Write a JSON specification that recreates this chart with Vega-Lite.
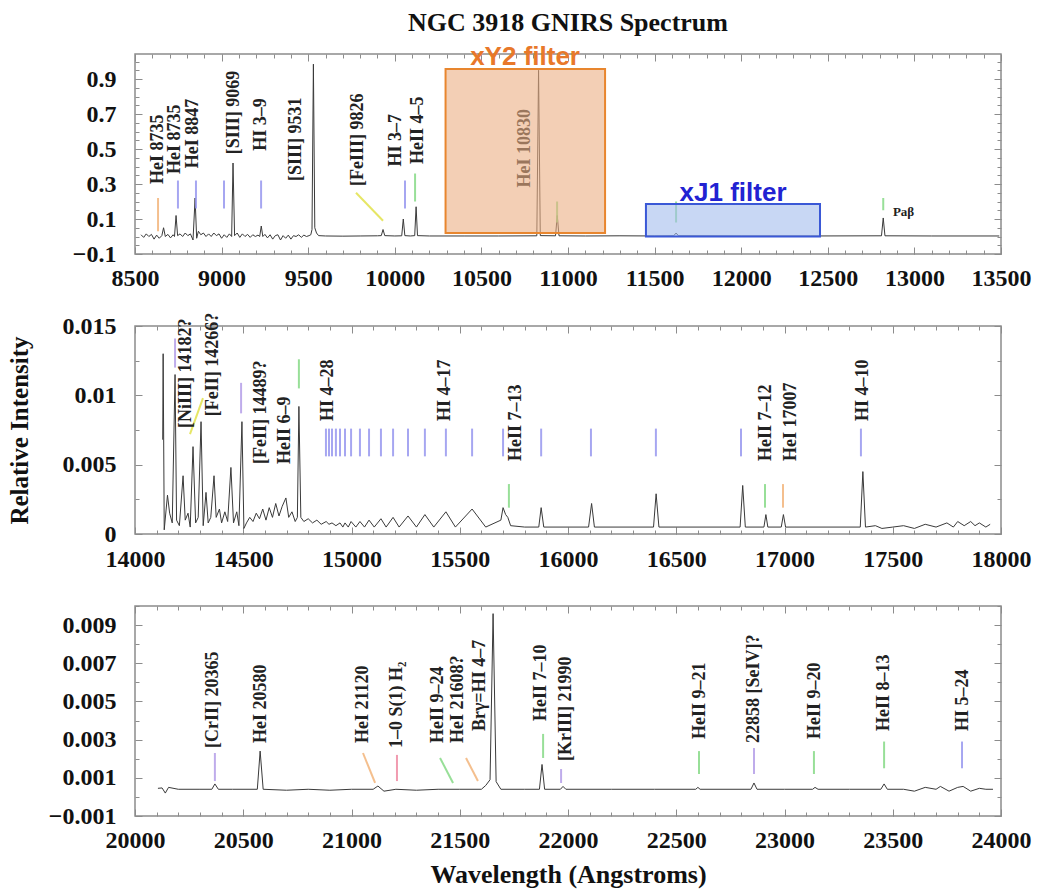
{
"$schema": "https://vega.github.io/schema/vega-lite/v6.json",
"background": "white",
"padding": {"left": 6, "top": 10, "right": 5, "bottom": 5},
"title": {"text": "NGC 3918 GNIRS Spectrum", "anchor": "middle", "frame": "group", "font": "Liberation Serif", "fontSize": 26, "fontWeight": "bold", "color": "#111", "offset": 7},
"bounds": "flush",
"spacing": 72,
"config": {
 "view": {"stroke": "#8c8c8c", "strokeWidth": 1.5},
 "axis": {"domain": false, "grid": false, "tickColor": "#8c8c8c", "tickWidth": 1, "labelFont": "Liberation Serif", "labelFontWeight": "bold", "labelFontSize": 24, "labelColor": "#111", "titleFont": "Liberation Serif", "titleFontWeight": "bold", "titleFontSize": 26, "titleColor": "#111", "labelFlush": false, "labelOverlap": false, "labelBound": false},
 "text": {"font": "Liberation Serif", "fontWeight": "bold", "fontSize": 18, "color": "#222"}
},
"datasets": {
 "top_spec": [
  {"w":8535,"f":0.01},{"w":8550,"f":-0.005},{"w":8565,"f":0.015},{"w":8580,"f":0.0},{"w":8595,"f":0.012},{"w":8610,"f":-0.015},{"w":8625,"f":0.008},{"w":8640,"f":-0.01},{"w":8655,"f":0.005},{"w":8665,"f":0.05},{"w":8675,"f":0.0},{"w":8690,"f":0.012},{"w":8705,"f":-0.008},{"w":8720,"f":0.01},{"w":8728,"f":0.0},{"w":8737,"f":0.12},{"w":8746,"f":0.005},{"w":8760,"f":0.015},{"w":8775,"f":0.0},{"w":8790,"f":0.02},{"w":8805,"f":0.005},{"w":8820,"f":0.015},{"w":8835,"f":-0.02},{"w":8847,"f":0.22},{"w":8856,"f":-0.01},{"w":8866,"f":0.03},{"w":8880,"f":0.01},{"w":8895,"f":0.02},{"w":8910,"f":0.0},{"w":8925,"f":0.015},{"w":8940,"f":0.0},{"w":8955,"f":0.02},{"w":8970,"f":0.005},{"w":8985,"f":0.015},{"w":9000,"f":-0.01},{"w":9015,"f":0.01},{"w":9030,"f":-0.005},{"w":9045,"f":0.015},{"w":9058,"f":0.0},{"w":9066,"f":0.42},{"w":9075,"f":0.005},{"w":9090,"f":0.02},{"w":9105,"f":-0.005},{"w":9120,"f":0.015},{"w":9135,"f":0.0},{"w":9150,"f":0.012},{"w":9165,"f":-0.005},{"w":9180,"f":0.01},{"w":9195,"f":0.0},{"w":9210,"f":0.008},{"w":9220,"f":0.0},{"w":9229,"f":0.06},{"w":9238,"f":0.0},{"w":9250,"f":0.012},{"w":9265,"f":-0.008},{"w":9280,"f":0.01},{"w":9295,"f":-0.015},{"w":9310,"f":0.005},{"w":9325,"f":0.01},{"w":9340,"f":-0.02},{"w":9355,"f":0.005},{"w":9370,"f":-0.01},{"w":9385,"f":0.008},{"w":9400,"f":-0.015},{"w":9415,"f":0.005},{"w":9430,"f":0.0},{"w":9445,"f":0.01},{"w":9460,"f":-0.005},{"w":9475,"f":0.008},{"w":9490,"f":0.0},{"w":9505,"f":0.005},{"w":9515,"f":0.01},{"w":9522,"f":0.04},{"w":9530,"f":0.985},{"w":9538,"f":0.05},{"w":9548,"f":0.02},{"w":9560,"f":0.005},{"w":9600,"f":0.003},{"w":9700,"f":0.002},{"w":9800,"f":0.003},{"w":9900,"f":0.004},{"w":9922,"f":0.005},{"w":9932,"f":0.04},{"w":9942,"f":0.005},{"w":10000,"f":0.003},{"w":10040,"f":0.004},{"w":10049,"f":0.1},{"w":10058,"f":0.005},{"w":10090,"f":0.003},{"w":10115,"f":0.005},{"w":10123,"f":0.17},{"w":10131,"f":0.005},{"w":10200,"f":0.003},{"w":10400,"f":0.003},{"w":10600,"f":0.003},{"w":10820,"f":0.004},{"w":10830,"f":0.95},{"w":10840,"f":0.005},{"w":10928,"f":0.004},{"w":10938,"f":0.12},{"w":10948,"f":0.004},{"w":11100,"f":0.003},{"w":11300,"f":0.004},{"w":11500,"f":0.003},{"w":11610,"f":0.004},{"w":11624,"f":0.02},{"w":11638,"f":0.004},{"w":12000,"f":0.003},{"w":12400,"f":0.003},{"w":12810,"f":0.004},{"w":12820,"f":0.106},{"w":12830,"f":0.004},{"w":13100,"f":0.003},{"w":13490,"f":0.003}
 ],
 "top_mk": [
  {"w":8633,"a":0.03,"b":0.22,"k":"HeI"},{"w":8748,"a":0.16,"b":0.32,"k":"HI"},{"w":8852,"a":0.16,"b":0.32,"k":"HI"},{"w":9014,"a":0.16,"b":0.32,"k":"HI"},{"w":9228,"a":0.16,"b":0.32,"k":"HI"},{"w":10059,"a":0.16,"b":0.32,"k":"HI"},{"w":10117,"a":0.2,"b":0.36,"k":"HeII"},{"w":10937,"a":0.08,"b":0.2,"k":"HeII"},{"w":11624,"a":0.08,"b":0.2,"k":"HeII"},{"w":12820,"a":0.15,"b":0.22,"k":"HeII"}
 ],
 "top_ld": [{"w":9776,"w2":9932,"a":0.25,"b":0.09,"k":"Fe"}],
 "top_lb": [
  {"w":8633,"a":0.3,"t":"HeI 8735"},{"w":8731,"a":0.357,"t":"HeI 8735"},{"w":8835,"a":0.39,"t":"HeI 8847"},{"w":9072,"a":0.47,"t":"[SIII] 9069"},{"w":9227,"a":0.49,"t":"HI 3–9"},{"w":9430,"a":0.317,"t":"[SIII] 9531"},{"w":9787,"a":0.289,"t":"[FeIII] 9826"},{"w":10007,"a":0.4,"t":"HI 3–7"},{"w":10134,"a":0.414,"t":"HeII 4–5"},{"w":10752,"a":0.28,"t":"HeI 10830"}
 ],
 "top_box": [{"band":"xY2","w":10293,"w2":11214,"a":0.02,"b":0.957},{"band":"xJ1","w":11450,"w2":12455,"a":0.0,"b":0.186}],
 "top_ft": [{"band":"xY2","w":10752,"a":1.026,"t":"xY2 filter"},{"band":"xJ1","w":11953,"a":0.25,"t":"xJ1 filter"}],
 "top_pa": [{"w":12876,"a":0.14,"t":"Paβ"}],
 "mid_spec": [
  {"w":14128,"f":0.0068},{"w":14130,"f":0.013},{"w":14135,"f":0.0003},{"w":14150,"f":0.0028},{"w":14160,"f":0.0015},{"w":14172,"f":0.0008},{"w":14185,"f":0.0115},{"w":14192,"f":0.001},{"w":14205,"f":0.0006},{"w":14222,"f":0.0042},{"w":14232,"f":0.001},{"w":14245,"f":0.0015},{"w":14255,"f":0.0005},{"w":14268,"f":0.0063},{"w":14280,"f":0.0008},{"w":14292,"f":0.0012},{"w":14305,"f":0.0081},{"w":14315,"f":0.0006},{"w":14328,"f":0.003},{"w":14338,"f":0.0008},{"w":14350,"f":0.0012},{"w":14365,"f":0.0042},{"w":14375,"f":0.0012},{"w":14390,"f":0.0018},{"w":14400,"f":0.0008},{"w":14415,"f":0.0016},{"w":14428,"f":0.0009},{"w":14443,"f":0.0048},{"w":14455,"f":0.0008},{"w":14470,"f":0.0016},{"w":14480,"f":0.0006},{"w":14494,"f":0.0081},{"w":14503,"f":0.0004},{"w":14515,"f":0.0008},{"w":14530,"f":0.0012},{"w":14545,"f":0.0009},{"w":14560,"f":0.0015},{"w":14575,"f":0.0011},{"w":14590,"f":0.0018},{"w":14605,"f":0.001},{"w":14620,"f":0.0019},{"w":14635,"f":0.0012},{"w":14650,"f":0.0022},{"w":14665,"f":0.0013},{"w":14680,"f":0.002},{"w":14697,"f":0.0026},{"w":14710,"f":0.0012},{"w":14725,"f":0.0016},{"w":14740,"f":0.0009},{"w":14750,"f":0.0012},{"w":14757,"f":0.0092},{"w":14766,"f":0.0012},{"w":14780,"f":0.0009},{"w":14800,"f":0.0011},{"w":14820,"f":0.0008},{"w":14840,"f":0.001},{"w":14860,"f":0.0007},{"w":14883,"f":0.0009},{"w":14896,"f":0.0007},{"w":14910,"f":0.0008},{"w":14928,"f":0.0006},{"w":14947,"f":0.0008},{"w":14960,"f":0.0005},{"w":14970,"f":0.0008},{"w":14985,"f":0.0005},{"w":14998,"f":0.0009},{"w":15020,"f":0.0005},{"w":15039,"f":0.0009},{"w":15060,"f":0.0005},{"w":15081,"f":0.001},{"w":15105,"f":0.0005},{"w":15136,"f":0.0011},{"w":15160,"f":0.0005},{"w":15192,"f":0.0012},{"w":15220,"f":0.0005},{"w":15261,"f":0.0013},{"w":15300,"f":0.0005},{"w":15339,"f":0.0014},{"w":15380,"f":0.0005},{"w":15436,"f":0.0016},{"w":15480,"f":0.0005},{"w":15557,"f":0.0018},{"w":15620,"f":0.0005},{"w":15690,"f":0.001},{"w":15700,"f":0.0019},{"w":15712,"f":0.0014},{"w":15722,"f":0.0012},{"w":15735,"f":0.0006},{"w":15800,"f":0.0005},{"w":15865,"f":0.0005},{"w":15876,"f":0.0019},{"w":15888,"f":0.0005},{"w":16095,"f":0.0005},{"w":16109,"f":0.0022},{"w":16122,"f":0.0005},{"w":16395,"f":0.0005},{"w":16407,"f":0.0029},{"w":16420,"f":0.0005},{"w":16795,"f":0.0005},{"w":16807,"f":0.0035},{"w":16819,"f":0.0005},{"w":16905,"f":0.0005},{"w":16914,"f":0.0014},{"w":16923,"f":0.0005},{"w":16985,"f":0.0005},{"w":16995,"f":0.0014},{"w":17005,"f":0.0005},{"w":17350,"f":0.0005},{"w":17362,"f":0.0045},{"w":17374,"f":0.0005},{"w":17420,"f":0.0006},{"w":17450,"f":0.0004},{"w":17500,"f":0.0005},{"w":17550,"f":0.0006},{"w":17600,"f":0.0004},{"w":17650,"f":0.0007},{"w":17700,"f":0.0005},{"w":17750,"f":0.0008},{"w":17780,"f":0.0005},{"w":17800,"f":0.0009},{"w":17830,"f":0.0006},{"w":17860,"f":0.0009},{"w":17880,"f":0.0006},{"w":17900,"f":0.0008},{"w":17930,"f":0.0005},{"w":17950,"f":0.0007}
 ],
 "mid_mk": [
  {"w":14185,"a":0.012,"b":0.0141,"k":"ion"},{"w":14490,"a":0.0087,"b":0.0109,"k":"ion"},{"w":14757,"a":0.0105,"b":0.0126,"k":"HeII"},
  {"w":14882,"a":0.0056,"b":0.0076,"k":"HI"},{"w":14896,"a":0.0056,"b":0.0076,"k":"HI"},{"w":14910,"a":0.0056,"b":0.0076,"k":"HI"},{"w":14928,"a":0.0056,"b":0.0076,"k":"HI"},{"w":14947,"a":0.0056,"b":0.0076,"k":"HI"},{"w":14970,"a":0.0056,"b":0.0076,"k":"HI"},{"w":14998,"a":0.0056,"b":0.0076,"k":"HI"},{"w":15039,"a":0.0056,"b":0.0076,"k":"HI"},{"w":15081,"a":0.0056,"b":0.0076,"k":"HI"},{"w":15136,"a":0.0056,"b":0.0076,"k":"HI"},{"w":15192,"a":0.0056,"b":0.0076,"k":"HI"},{"w":15261,"a":0.0056,"b":0.0076,"k":"HI"},{"w":15339,"a":0.0056,"b":0.0076,"k":"HI"},{"w":15436,"a":0.0056,"b":0.0076,"k":"HI"},{"w":15557,"a":0.0056,"b":0.0076,"k":"HI"},{"w":15700,"a":0.0056,"b":0.0076,"k":"HI"},{"w":15876,"a":0.0056,"b":0.0076,"k":"HI"},{"w":16106,"a":0.0056,"b":0.0076,"k":"HI"},{"w":16406,"a":0.0056,"b":0.0076,"k":"HI"},{"w":16799,"a":0.0056,"b":0.0076,"k":"HI"},{"w":17353,"a":0.0056,"b":0.0076,"k":"HI"},
  {"w":15727,"a":0.0019,"b":0.0036,"k":"HeII"},{"w":16910,"a":0.0019,"b":0.0036,"k":"HeII"},{"w":16993,"a":0.0019,"b":0.0036,"k":"HeI"}
 ],
 "mid_ld": [{"w":14314,"w2":14254,"a":0.0098,"b":0.0072,"k":"Fe"}],
 "mid_lb": [
  {"w":14236,"a":0.00764,"t":"[NiIII] 14182?"},{"w":14360,"a":0.0085,"t":"[FeII] 14266?"},{"w":14582,"a":0.00505,"t":"[FeII] 14489?"},{"w":14693,"a":0.00505,"t":"HeII 6–9"},{"w":14891,"a":0.00815,"t":"HI 4–28"},{"w":15432,"a":0.00815,"t":"HI 4–17"},{"w":15760,"a":0.00526,"t":"HeII 7–13"},{"w":16914,"a":0.00526,"t":"HeII 7–12"},{"w":17030,"a":0.00526,"t":"HeI 17007"},{"w":17363,"a":0.00815,"t":"HI 4–10"}
 ],
 "bot_spec": [
  {"w":20106,"f":0.00045},{"w":20125,"f":0.00047},{"w":20140,"f":0.0002},{"w":20155,"f":0.0005},{"w":20200,"f":0.0004},{"w":20300,"f":0.0004},{"w":20355,"f":0.0004},{"w":20369,"f":0.00068},{"w":20385,"f":0.0004},{"w":20450,"f":0.0004},{"w":20565,"f":0.0004},{"w":20578,"f":0.0024},{"w":20592,"f":0.0004},{"w":20700,"f":0.00035},{"w":20800,"f":0.0004},{"w":20900,"f":0.00035},{"w":21000,"f":0.0004},{"w":21100,"f":0.0004},{"w":21122,"f":0.00057},{"w":21150,"f":0.0003},{"w":21205,"f":0.0004},{"w":21300,"f":0.00035},{"w":21400,"f":0.0004},{"w":21500,"f":0.0004},{"w":21600,"f":0.0004},{"w":21620,"f":0.0006},{"w":21640,"f":0.0009},{"w":21654,"f":0.0096},{"w":21668,"f":0.0008},{"w":21690,"f":0.0004},{"w":21800,"f":0.0004},{"w":21868,"f":0.0004},{"w":21880,"f":0.0017},{"w":21892,"f":0.0004},{"w":21965,"f":0.0004},{"w":21977,"f":0.00055},{"w":21990,"f":0.0004},{"w":22200,"f":0.0004},{"w":22400,"f":0.0004},{"w":22590,"f":0.0004},{"w":22600,"f":0.0005},{"w":22610,"f":0.0004},{"w":22845,"f":0.0004},{"w":22859,"f":0.00073},{"w":22873,"f":0.0004},{"w":23000,"f":0.0004},{"w":23130,"f":0.0004},{"w":23141,"f":0.0005},{"w":23155,"f":0.0004},{"w":23300,"f":0.0004},{"w":23445,"f":0.0004},{"w":23460,"f":0.00068},{"w":23475,"f":0.0004},{"w":23550,"f":0.0004},{"w":23600,"f":0.0003},{"w":23650,"f":0.0005},{"w":23700,"f":0.0004},{"w":23720,"f":0.00055},{"w":23760,"f":0.0003},{"w":23800,"f":0.0005},{"w":23825,"f":0.00055},{"w":23860,"f":0.0003},{"w":23900,"f":0.00045},{"w":23930,"f":0.0004},{"w":23963,"f":0.0004}
 ],
 "bot_mk": [
  {"w":20369,"a":0.00083,"b":0.0023,"k":"ion"},{"w":21210,"a":0.00083,"b":0.0022,"k":"H2"},{"w":21885,"a":0.00204,"b":0.0033,"k":"HeII"},{"w":21968,"a":0.00073,"b":0.00146,"k":"ion"},{"w":22605,"a":0.0012,"b":0.0024,"k":"HeII"},{"w":22859,"a":0.0012,"b":0.00256,"k":"ion"},{"w":23136,"a":0.0012,"b":0.0024,"k":"HeII"},{"w":23460,"a":0.0015,"b":0.0029,"k":"HeII"},{"w":23820,"a":0.0015,"b":0.0029,"k":"HI"}
 ],
 "bot_ld": [
  {"w":21053,"w2":21109,"a":0.0023,"b":0.00073,"k":"HeI"},{"w":21409,"w2":21469,"a":0.00204,"b":0.00073,"k":"HeII"},{"w":21529,"w2":21584,"a":0.00204,"b":0.00083,"k":"HeI"}
 ],
 "bot_lb": [
  {"w":20360,"a":0.00256,"t":"[CrII] 20365"},{"w":20582,"a":0.00282,"t":"HeI 20580"},{"w":21053,"a":0.00282,"t":"HeI 21120"},{"w":21210,"a":0.00256,"t":"1–0 S(1) H₂"},{"w":21400,"a":0.00282,"t":"HeII 9–24"},{"w":21492,"a":0.00282,"t":"HeI 21608?"},{"w":21594,"a":0.00345,"t":"Brγ=HI 4–7"},{"w":21877,"a":0.00398,"t":"HeII 7–10"},{"w":21990,"a":0.00188,"t":"[KrIII] 21990"},{"w":22609,"a":0.00303,"t":"HeII 9–21"},{"w":22859,"a":0.00282,"t":"22858 [SeIV]?"},{"w":23141,"a":0.00303,"t":"HeII 9–20"},{"w":23460,"a":0.00345,"t":"HeII 8–13"},{"w":23825,"a":0.00345,"t":"HI 5–24"}
 ]
},
"vconcat": [
 {
  "width": 866, "height": 200,
  "resolve": {"axis": {"x": "independent", "y": "independent"}},
  "layer": [
   {"data": {"name": "top_spec"}, "mark": {"type": "line", "color": "#3a3a3a", "strokeWidth": 1},
    "encoding": {
     "x": {"field": "w", "type": "quantitative", "scale": {"domain": [8500, 13500], "nice": false, "zero": false}, "axis": {"orient": "bottom", "values": [8500,9000,9500,10000,10500,11000,11500,12000,12500,13000,13500], "format": "d", "tickSize": -7, "labelPadding": 19, "title": null}},
     "y": {"field": "f", "type": "quantitative", "scale": {"domain": [-0.1, 1.043], "nice": false, "zero": false}, "axis": {"orient": "left", "values": [-0.1,0.1,0.3,0.5,0.7,0.9], "format": ".1f", "tickSize": -7, "labelPadding": 26, "title": null}}
    }},
   {"data": {"name": "top_mk"}, "mark": {"type": "rule", "strokeWidth": 2, "opacity": 0.85},
    "encoding": {
     "x": {"field": "w", "type": "quantitative", "scale": {"domain": [8500, 13500], "nice": false, "zero": false}, "axis": {"orient": "bottom", "values": [8600,8700,8800,8900,9000,9100,9200,9300,9400,9500,9600,9700,9800,9900,10000,10100,10200,10300,10400,10500,10600,10700,10800,10900,11000,11100,11200,11300,11400,11500,11600,11700,11800,11900,12000,12100,12200,12300,12400,12500,12600,12700,12800,12900,13000,13100,13200,13300,13400], "labels": false, "tickSize": -4, "title": null}},
     "y": {"field": "a", "type": "quantitative", "scale": {"domain": [-0.1, 1.043], "nice": false, "zero": false}, "axis": {"orient": "left", "values": [-0.05,0,0.05,0.1,0.15,0.2,0.25,0.3,0.35,0.4,0.45,0.5,0.55,0.6,0.65,0.7,0.75,0.8,0.85,0.9,0.95,1.0], "labels": false, "tickSize": -4, "title": null}},
     "y2": {"field": "b"},
     "color": {"field": "k", "type": "nominal", "scale": {"domain": ["HI","HeII","HeI","Fe","H2","ion"], "range": ["#9797ee","#86d986","#f2b47a","#e2e24a","#ee8aa2","#b49ee8"]}, "legend": null}
    }},
   {"data": {"name": "top_ld"}, "mark": {"type": "rule", "strokeWidth": 2, "opacity": 0.85},
    "encoding": {
     "x": {"field": "w", "type": "quantitative", "scale": {"domain": [8500, 13500], "nice": false, "zero": false}, "axis": {"orient": "top", "values": [8600,8700,8800,8900,9000,9100,9200,9300,9400,9500,9600,9700,9800,9900,10000,10100,10200,10300,10400,10500,10600,10700,10800,10900,11000,11100,11200,11300,11400,11500,11600,11700,11800,11900,12000,12100,12200,12300,12400,12500,12600,12700,12800,12900,13000,13100,13200,13300,13400], "labels": false, "tickSize": -4, "title": null}},
     "x2": {"field": "w2"},
     "y": {"field": "a", "type": "quantitative", "scale": {"domain": [-0.1, 1.043], "nice": false, "zero": false}, "axis": {"orient": "right", "values": [-0.05,0,0.05,0.1,0.15,0.2,0.25,0.3,0.35,0.4,0.45,0.5,0.55,0.6,0.65,0.7,0.75,0.8,0.85,0.9,0.95,1.0], "labels": false, "tickSize": -4, "title": null}},
     "y2": {"field": "b"},
     "color": {"field": "k", "type": "nominal", "scale": {"domain": ["HI","HeII","HeI","Fe","H2","ion"], "range": ["#9797ee","#86d986","#f2b47a","#e2e24a","#ee8aa2","#b49ee8"]}, "legend": null}
    }},
   {"data": {"name": "top_lb"}, "mark": {"type": "text", "angle": 270, "align": "left", "baseline": "middle"},
    "encoding": {
     "x": {"field": "w", "type": "quantitative", "scale": {"domain": [8500, 13500], "nice": false, "zero": false}, "axis": {"orient": "top", "values": [8500,9000,9500,10000,10500,11000,11500,12000,12500,13000,13500], "labels": false, "tickSize": -7, "title": null}},
     "y": {"field": "a", "type": "quantitative", "scale": {"domain": [-0.1, 1.043], "nice": false, "zero": false}, "axis": {"orient": "right", "values": [-0.1,0.1,0.3,0.5,0.7,0.9], "labels": false, "tickSize": -7, "title": null}},
     "text": {"field": "t"}
    }},
   {"data": {"name": "top_pa"}, "mark": {"type": "text", "align": "left", "baseline": "middle", "fontSize": 13},
    "encoding": {
     "x": {"field": "w", "type": "quantitative", "scale": {"domain": [8500, 13500], "nice": false, "zero": false}, "axis": null},
     "y": {"field": "a", "type": "quantitative", "scale": {"domain": [-0.1, 1.043], "nice": false, "zero": false}, "axis": null},
     "text": {"field": "t"}
    }},
   {"data": {"name": "top_box"}, "mark": {"type": "rect", "fillOpacity": 0.6, "strokeWidth": 2},
    "encoding": {
     "x": {"field": "w", "type": "quantitative", "scale": {"domain": [8500, 13500], "nice": false, "zero": false}, "axis": null},
     "x2": {"field": "w2"},
     "y": {"field": "a", "type": "quantitative", "scale": {"domain": [-0.1, 1.043], "nice": false, "zero": false}, "axis": null},
     "y2": {"field": "b"},
     "fill": {"field": "band", "type": "nominal", "scale": {"domain": ["xY2","xJ1"], "range": ["#ebaf84","#a3bced"]}, "legend": null},
     "stroke": {"field": "band", "type": "nominal", "scale": {"domain": ["xY2","xJ1"], "range": ["#e8862e","#3a58d6"]}, "legend": null}
    }},
   {"data": {"name": "top_ft"}, "transform": [{"filter": "datum.band == 'xY2'"}], "mark": {"type": "text", "font": "Liberation Sans", "fontWeight": "bold", "fontSize": 26, "color": "#e8782a", "align": "center", "baseline": "middle"},
    "encoding": {
     "x": {"field": "w", "type": "quantitative", "scale": {"domain": [8500, 13500], "nice": false, "zero": false}, "axis": null},
     "y": {"field": "a", "type": "quantitative", "scale": {"domain": [-0.1, 1.043], "nice": false, "zero": false}, "axis": null},
     "text": {"field": "t"}
    }},
   {"data": {"name": "top_ft"}, "transform": [{"filter": "datum.band == 'xJ1'"}], "mark": {"type": "text", "font": "Liberation Sans", "fontWeight": "bold", "fontSize": 26, "color": "#2222d2", "align": "center", "baseline": "middle"},
    "encoding": {
     "x": {"field": "w", "type": "quantitative", "scale": {"domain": [8500, 13500], "nice": false, "zero": false}, "axis": null},
     "y": {"field": "a", "type": "quantitative", "scale": {"domain": [-0.1, 1.043], "nice": false, "zero": false}, "axis": null},
     "text": {"field": "t"}
    }}
  ]
 },
 {
  "width": 866, "height": 208,
  "resolve": {"axis": {"x": "independent", "y": "independent"}},
  "layer": [
   {"data": {"name": "mid_spec"}, "mark": {"type": "line", "color": "#3a3a3a", "strokeWidth": 1},
    "encoding": {
     "x": {"field": "w", "type": "quantitative", "scale": {"domain": [14000, 18000], "nice": false, "zero": false}, "axis": {"orient": "bottom", "values": [14000,14500,15000,15500,16000,16500,17000,17500,18000], "format": "d", "tickSize": -7, "labelPadding": 20, "title": null}},
     "y": {"field": "f", "type": "quantitative", "scale": {"domain": [0, 0.015], "nice": false, "zero": false}, "axis": {"orient": "left", "values": [0,0.005,0.01,0.015], "format": ".3~f", "tickSize": -7, "labelPadding": 26, "title": "Relative Intensity", "titleFontSize": 25, "titlePadding": 30}}
    }},
   {"data": {"name": "mid_mk"}, "mark": {"type": "rule", "strokeWidth": 2, "opacity": 0.85},
    "encoding": {
     "x": {"field": "w", "type": "quantitative", "scale": {"domain": [14000, 18000], "nice": false, "zero": false}, "axis": {"orient": "bottom", "values": [14100,14200,14300,14400,14500,14600,14700,14800,14900,15000,15100,15200,15300,15400,15500,15600,15700,15800,15900,16000,16100,16200,16300,16400,16500,16600,16700,16800,16900,17000,17100,17200,17300,17400,17500,17600,17700,17800,17900], "labels": false, "tickSize": -4, "title": null}},
     "y": {"field": "a", "type": "quantitative", "scale": {"domain": [0, 0.015], "nice": false, "zero": false}, "axis": {"orient": "left", "values": [0.0025,0.0075,0.0125], "labels": false, "tickSize": -4, "title": null}},
     "y2": {"field": "b"},
     "color": {"field": "k", "type": "nominal", "scale": {"domain": ["HI","HeII","HeI","Fe","H2","ion"], "range": ["#9797ee","#86d986","#f2b47a","#e2e24a","#ee8aa2","#b49ee8"]}, "legend": null}
    }},
   {"data": {"name": "mid_ld"}, "mark": {"type": "rule", "strokeWidth": 2, "opacity": 0.85},
    "encoding": {
     "x": {"field": "w", "type": "quantitative", "scale": {"domain": [14000, 18000], "nice": false, "zero": false}, "axis": {"orient": "top", "values": [14100,14200,14300,14400,14500,14600,14700,14800,14900,15000,15100,15200,15300,15400,15500,15600,15700,15800,15900,16000,16100,16200,16300,16400,16500,16600,16700,16800,16900,17000,17100,17200,17300,17400,17500,17600,17700,17800,17900], "labels": false, "tickSize": -4, "title": null}},
     "x2": {"field": "w2"},
     "y": {"field": "a", "type": "quantitative", "scale": {"domain": [0, 0.015], "nice": false, "zero": false}, "axis": {"orient": "right", "values": [0.0025,0.0075,0.0125], "labels": false, "tickSize": -4, "title": null}},
     "y2": {"field": "b"},
     "color": {"field": "k", "type": "nominal", "scale": {"domain": ["HI","HeII","HeI","Fe","H2","ion"], "range": ["#9797ee","#86d986","#f2b47a","#e2e24a","#ee8aa2","#b49ee8"]}, "legend": null}
    }},
   {"data": {"name": "mid_lb"}, "mark": {"type": "text", "angle": 270, "align": "left", "baseline": "middle"},
    "encoding": {
     "x": {"field": "w", "type": "quantitative", "scale": {"domain": [14000, 18000], "nice": false, "zero": false}, "axis": {"orient": "top", "values": [14000,14500,15000,15500,16000,16500,17000,17500,18000], "labels": false, "tickSize": -7, "title": null}},
     "y": {"field": "a", "type": "quantitative", "scale": {"domain": [0, 0.015], "nice": false, "zero": false}, "axis": {"orient": "right", "values": [0,0.005,0.01,0.015], "labels": false, "tickSize": -7, "title": null}},
     "text": {"field": "t"}
    }}
  ]
 },
 {
  "width": 866, "height": 210,
  "resolve": {"axis": {"x": "independent", "y": "independent"}},
  "layer": [
   {"data": {"name": "bot_spec"}, "mark": {"type": "line", "color": "#3a3a3a", "strokeWidth": 1},
    "encoding": {
     "x": {"field": "w", "type": "quantitative", "scale": {"domain": [20000, 24000], "nice": false, "zero": false}, "axis": {"orient": "bottom", "values": [20000,20500,21000,21500,22000,22500,23000,23500,24000], "format": "d", "tickSize": -7, "labelPadding": 19, "title": "Wavelength (Angstroms)", "titlePadding": 9}},
     "y": {"field": "f", "type": "quantitative", "scale": {"domain": [-0.001, 0.01], "nice": false, "zero": false}, "axis": {"orient": "left", "values": [-0.001,0.001,0.003,0.005,0.007,0.009], "format": ".3f", "tickSize": -7, "labelPadding": 26, "title": null}}
    }},
   {"data": {"name": "bot_mk"}, "mark": {"type": "rule", "strokeWidth": 2, "opacity": 0.85},
    "encoding": {
     "x": {"field": "w", "type": "quantitative", "scale": {"domain": [20000, 24000], "nice": false, "zero": false}, "axis": {"orient": "bottom", "values": [20100,20200,20300,20400,20500,20600,20700,20800,20900,21000,21100,21200,21300,21400,21500,21600,21700,21800,21900,22000,22100,22200,22300,22400,22500,22600,22700,22800,22900,23000,23100,23200,23300,23400,23500,23600,23700,23800,23900], "labels": false, "tickSize": -4, "title": null}},
     "y": {"field": "a", "type": "quantitative", "scale": {"domain": [-0.001, 0.01], "nice": false, "zero": false}, "axis": {"orient": "left", "values": [0,0.002,0.004,0.006,0.008,0.01], "labels": false, "tickSize": -4, "title": null}},
     "y2": {"field": "b"},
     "color": {"field": "k", "type": "nominal", "scale": {"domain": ["HI","HeII","HeI","Fe","H2","ion"], "range": ["#9797ee","#86d986","#f2b47a","#e2e24a","#ee8aa2","#b49ee8"]}, "legend": null}
    }},
   {"data": {"name": "bot_ld"}, "mark": {"type": "rule", "strokeWidth": 2, "opacity": 0.85},
    "encoding": {
     "x": {"field": "w", "type": "quantitative", "scale": {"domain": [20000, 24000], "nice": false, "zero": false}, "axis": {"orient": "top", "values": [20100,20200,20300,20400,20500,20600,20700,20800,20900,21000,21100,21200,21300,21400,21500,21600,21700,21800,21900,22000,22100,22200,22300,22400,22500,22600,22700,22800,22900,23000,23100,23200,23300,23400,23500,23600,23700,23800,23900], "labels": false, "tickSize": -4, "title": null}},
     "x2": {"field": "w2"},
     "y": {"field": "a", "type": "quantitative", "scale": {"domain": [-0.001, 0.01], "nice": false, "zero": false}, "axis": {"orient": "right", "values": [0,0.002,0.004,0.006,0.008,0.01], "labels": false, "tickSize": -4, "title": null}},
     "y2": {"field": "b"},
     "color": {"field": "k", "type": "nominal", "scale": {"domain": ["HI","HeII","HeI","Fe","H2","ion"], "range": ["#9797ee","#86d986","#f2b47a","#e2e24a","#ee8aa2","#b49ee8"]}, "legend": null}
    }},
   {"data": {"name": "bot_lb"}, "mark": {"type": "text", "angle": 270, "align": "left", "baseline": "middle"},
    "encoding": {
     "x": {"field": "w", "type": "quantitative", "scale": {"domain": [20000, 24000], "nice": false, "zero": false}, "axis": {"orient": "top", "values": [20000,20500,21000,21500,22000,22500,23000,23500,24000], "labels": false, "tickSize": -7, "title": null}},
     "y": {"field": "a", "type": "quantitative", "scale": {"domain": [-0.001, 0.01], "nice": false, "zero": false}, "axis": {"orient": "right", "values": [-0.001,0.001,0.003,0.005,0.007,0.009], "labels": false, "tickSize": -7, "title": null}},
     "text": {"field": "t"}
    }}
  ]
 }
]
}
